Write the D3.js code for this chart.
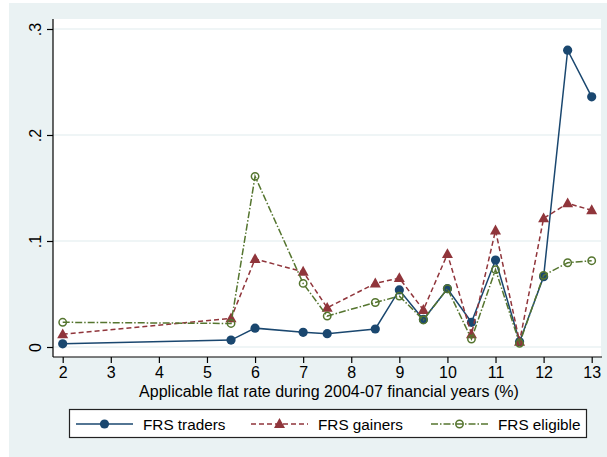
<!DOCTYPE html>
<html>
<head>
<meta charset="utf-8">
<script src="https://cdn.jsdelivr.net/npm/d3@7"></script>
<style>
  html, body { margin: 0; padding: 0; background: #ffffff; }
  svg { display: block; }
  text { font-family: "Liberation Sans", Arial, Helvetica, sans-serif; fill: #000; }
</style>
</head>
<body>
<svg id="chart" width="607" height="457"></svg>
<script>
// ---- data ----
const rates = [2, 5.5, 6, 7, 7.5, 8.5, 9, 9.5, 10, 10.5, 11, 11.5, 12, 12.5, 13];
const traders = [0.003, 0.0065, 0.0178, 0.0138, 0.0126, 0.017, 0.0538, 0.026, 0.055, 0.0233, 0.082, 0.005, 0.0663, 0.280, 0.236];
const gainers = [0.012, 0.027, 0.083, 0.071, 0.037, 0.060, 0.065, 0.035, 0.0877, 0.012, 0.110, 0.005, 0.1214, 0.1355, 0.129];
const eligible = [0.0233, 0.0222, 0.161, 0.060, 0.0292, 0.042, 0.048, 0.0255, 0.055, 0.0075, 0.073, 0.0035, 0.0676, 0.0795, 0.0814];
const xTicks = [2, 3, 4, 5, 6, 7, 8, 9, 10, 11, 12, 13];
const yTicks = [0, 0.1, 0.2, 0.3];
const yTickLabels = ["0", ".1", ".2", ".3"];
const seriesNames = ["FRS traders", "FRS gainers", "FRS eligible"];
const xTitle = "Applicable flat rate during 2004-07 financial years (%)";

// ---- styles ----
const styles = [
  { color: "#1a476f", dash: null, marker: "circle", values: traders },
  { color: "#90353b", dash: "5,3", marker: "triangle", values: gainers },
  { color: "#55752f", dash: "7,2,1.5,2", marker: "hollow", values: eligible }
];

const svg = d3.select("#chart");
const bg = "#eaf2f3";

// outer background
svg.append("rect").attr("x", 9).attr("y", 3).attr("width", 598).attr("height", 454).attr("fill", bg);

const plot = { left: 53, top: 19, right: 601, bottom: 357 };
svg.append("rect").attr("x", plot.left).attr("y", plot.top)
  .attr("width", plot.right - plot.left).attr("height", plot.bottom - plot.top)
  .attr("fill", "#ffffff");

const x = d3.scaleLinear().domain([2, 13]).range([62.7, 591.7]);
const y = d3.scaleLinear().domain([0, 0.3]).range([347, 29]);

// gridlines
svg.append("g").selectAll("line").data(yTicks).join("line")
  .attr("x1", plot.left).attr("x2", plot.right)
  .attr("y1", d => y(d)).attr("y2", d => y(d))
  .attr("stroke", bg).attr("stroke-width", 1.5);

// x axis
const xAxis = d3.axisBottom(x).tickValues(xTicks).tickSize(6).tickSizeOuter(0).tickPadding(4).tickFormat(d3.format("d"));
const gx = svg.append("g").attr("transform", `translate(0,${plot.bottom})`).call(xAxis);
gx.select(".domain").remove();
gx.append("line").attr("x1", plot.left).attr("x2", plot.right + 1).attr("y1", 0).attr("y2", 0)
  .attr("stroke", "#000").attr("stroke-width", 1.2);
gx.selectAll(".tick line").attr("stroke", "#000").attr("stroke-width", 1.2);
gx.selectAll(".tick text").attr("font-size", "16px").attr("fill", "#000")
  .attr("font-family", "Liberation Sans, Arial, sans-serif");

// y axis
const yAxis = d3.axisLeft(y).tickValues(yTicks).tickSize(6).tickSizeOuter(0)
  .tickFormat((d, i) => yTickLabels[i]);
const gy = svg.append("g").attr("transform", `translate(${plot.left},0)`).call(yAxis);
gy.select(".domain").remove();
gy.append("line").attr("x1", 0).attr("x2", 0).attr("y1", plot.top).attr("y2", plot.bottom)
  .attr("stroke", "#000").attr("stroke-width", 1.2);
gy.selectAll(".tick line").attr("stroke", "#000").attr("stroke-width", 1.2);
gy.selectAll(".tick text")
  .attr("font-size", "16px").attr("fill", "#000")
  .attr("font-family", "Liberation Sans, Arial, sans-serif")
  .attr("x", null).attr("dy", null)
  .attr("text-anchor", "middle")
  .attr("transform", "translate(-12.5,0) rotate(-90)");

// x title
svg.append("text").attr("x", (plot.left + plot.right) / 2 + 2).attr("y", 397)
  .attr("text-anchor", "middle").attr("font-size", "16px").text(xTitle);

// series
const line = d3.line().x(d => x(d[0])).y(d => y(d[1]));
const triPath = (cx, cy, s) => `M${cx},${cy - s * 0.62} L${cx + s * 0.58},${cy + s * 0.42} L${cx - s * 0.58},${cy + s * 0.42} Z`;

function drawMarker(g, m, cx, cy, color) {
  if (m === "circle") {
    g.append("circle").attr("cx", cx).attr("cy", cy).attr("r", 4.6).attr("fill", color);
  } else if (m === "triangle") {
    g.append("path").attr("d", triPath(cx, cy, 9.5)).attr("fill", color);
  } else {
    g.append("circle").attr("cx", cx).attr("cy", cy).attr("r", 3.7)
      .attr("fill", "none").attr("stroke", color).attr("stroke-width", 1.5);
  }
}

styles.forEach(s => {
  const pts = rates.map((r, i) => [r, s.values[i]]);
  const g = svg.append("g");
  g.append("path").attr("d", line(pts)).attr("fill", "none")
    .attr("stroke", s.color).attr("stroke-width", 1.5)
    .attr("stroke-dasharray", s.dash);
  pts.forEach(p => drawMarker(g, s.marker, x(p[0]), y(p[1]), s.color));
});

// legend
svg.append("rect").attr("x", 69.5).attr("y", 409.5).attr("width", 517).attr("height", 28)
  .attr("fill", "#ffffff").attr("stroke", "#222").attr("stroke-width", 1.2);
const legendX = [76, 251, 431];
styles.forEach((s, i) => {
  const g = svg.append("g").attr("transform", `translate(${legendX[i]},424)`);
  g.append("line").attr("x1", 0).attr("x2", 57).attr("y1", 0).attr("y2", 0)
    .attr("stroke", s.color).attr("stroke-width", 1.5).attr("stroke-dasharray", s.dash);
  drawMarker(g, s.marker, 28.5, 0, s.color);
  g.append("text").attr("x", 67).attr("y", 5.5).attr("font-size", "15.3px").text(seriesNames[i]);
});
</script>
</body>
</html>
